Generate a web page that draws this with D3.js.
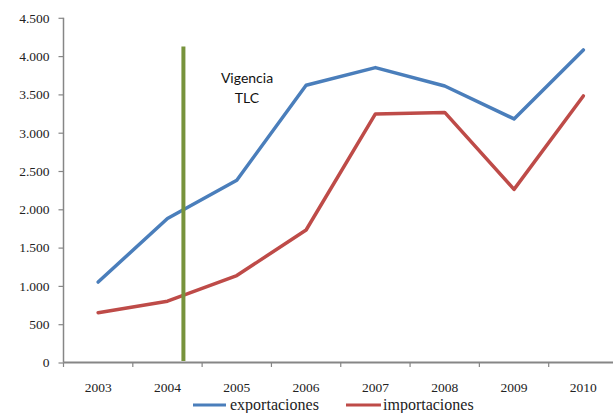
<!DOCTYPE html>
<html>
<head>
<meta charset="utf-8">
<script src="https://cdn.jsdelivr.net/npm/d3@7"></script>
<style>
  html, body { margin: 0; padding: 0; background: #fff; }
  svg { display: block; }
  .serif text, text.serif { font-family: "Liberation Serif", "Times New Roman", serif !important; }
</style>
</head>
<body>
<svg id="chart" width="613" height="413"></svg>
<script>
const years = ["2003", "2004", "2005", "2006", "2007", "2008", "2009", "2010"];
const exportaciones = [1050, 1880, 2380, 3620, 3850, 3610, 3180, 4080];
const importaciones = [650, 800, 1135, 1730, 3245, 3265, 2260, 3480];
const yTicks = [0, 500, 1000, 1500, 2000, 2500, 3000, 3500, 4000, 4500];
const tlcPosition = 1.23;           // category index (just after 2004)
const tlcRange = [20, 4125];        // vertical extent of the marker line
const tlcLabel = ["Vigencia", "TLC"];
const seriesNames = ["exportaciones", "importaciones"];
const colors = ["#4A7EBB", "#BE4B48"];
const tlcColor = "#77933C";

const svg = d3.select("#chart");
const mLeft = 63.5, mRight = 618, mTop = 17.8, mBottom = 362.5;

const x = d3.scaleBand().domain(years).range([mLeft, mRight]).paddingInner(0).paddingOuter(0);
const xi = d3.scaleLinear().domain([0, years.length - 1])
  .range([x(years[0]) + x.bandwidth() / 2, x(years[years.length - 1]) + x.bandwidth() / 2]);
const y = d3.scaleLinear().domain([0, 4500]).range([mBottom, mTop]);

const fmt = v => d3.format(",")(v).replace(/,/g, ".");

// Y axis
const yAxis = svg.append("g").attr("class", "serif").attr("transform", `translate(${mLeft},0)`)
  .call(d3.axisLeft(y).tickValues(yTicks).tickSize(5).tickPadding(9).tickFormat(fmt));
yAxis.select(".domain").attr("stroke", "#868686").attr("stroke-width", 1.5).attr("d", `M0,${mTop}V${mBottom}`);
yAxis.selectAll(".tick line").attr("stroke", "#868686").attr("stroke-width", 1.2);
yAxis.selectAll(".tick text").attr("font-size", 13.5).attr("fill", "#222");

// X axis
const xAxis = svg.append("g").attr("class", "serif").attr("transform", `translate(0,${mBottom})`)
  .call(d3.axisBottom(x).tickSize(0).tickPadding(20));
xAxis.select(".domain").attr("stroke", "#868686").attr("stroke-width", 1.8).attr("d", `M${mLeft},0H${mRight}`);
xAxis.selectAll(".tick text").attr("font-size", 13.5).attr("fill", "#222");
// boundary ticks
svg.append("g").selectAll("line")
  .data(d3.range(years.length + 1))
  .join("line")
  .attr("x1", i => mLeft + i * x.step()).attr("x2", i => mLeft + i * x.step())
  .attr("y1", mBottom).attr("y2", mBottom + 4.5)
  .attr("stroke", "#868686").attr("stroke-width", 1.2);

// Series lines
const line = d3.line().x((d, i) => xi(i)).y(d => y(d));
[exportaciones, importaciones].forEach((s, k) => {
  svg.append("path").datum(s)
    .attr("fill", "none").attr("stroke", colors[k]).attr("stroke-width", 3.5)
    .attr("stroke-linejoin", "round").attr("stroke-linecap", "round")
    .attr("d", line);
});

// TLC marker
svg.append("line")
  .attr("x1", xi(tlcPosition)).attr("x2", xi(tlcPosition))
  .attr("y1", y(tlcRange[0])).attr("y2", y(tlcRange[1]))
  .attr("stroke", tlcColor).attr("stroke-width", 4);

svg.append("text")
  .attr("x", 247).attr("y", 83)
  .attr("text-anchor", "middle")
  .attr("font-family", "Lato, 'Open Sans', sans-serif").attr("font-size", 14).attr("fill", "#111")
  .selectAll("tspan").data(tlcLabel).join("tspan")
  .attr("x", 247).attr("dy", (d, i) => i === 0 ? 0 : 20).text(d => d);

// Legend
const legendItems = [
  { name: seriesNames[0], color: colors[0], x1: 193, x2: 226, tx: 230 },
  { name: seriesNames[1], color: colors[1], x1: 346, x2: 381, tx: 383 }
];
const lg = svg.append("g").attr("class", "serif");
legendItems.forEach(d => {
  lg.append("line").attr("x1", d.x1).attr("x2", d.x2).attr("y1", 405).attr("y2", 405)
    .attr("stroke", d.color).attr("stroke-width", 3);
  lg.append("text").attr("x", d.tx).attr("y", 409.5)
    .attr("font-size", 16).attr("fill", "#222")
    .text(d.name);
});
</script>
</body>
</html>
